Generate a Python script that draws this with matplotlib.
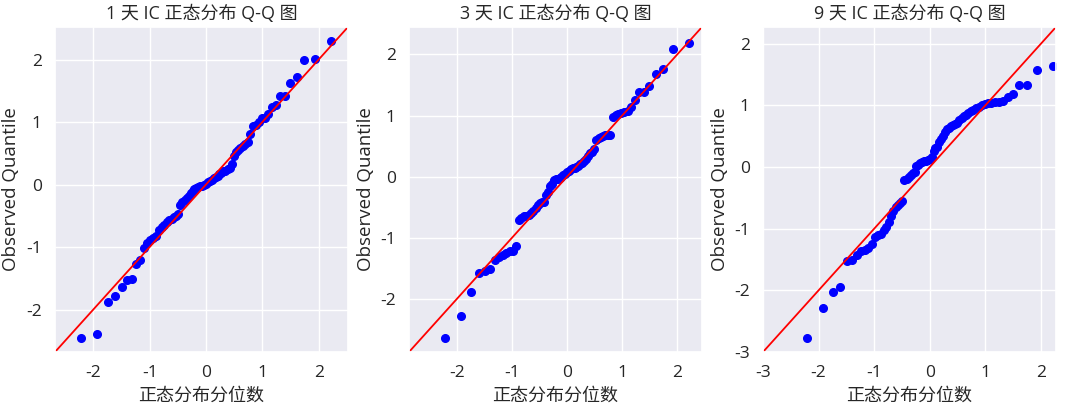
from statistics import NormalDist
from matplotlib import pyplot as plt
import seaborn as sns
import numpy as np

sns.set_theme(style='darkgrid')
plt.rcParams['font.family'] = ['Open Sans', 'Noto Sans CJK SC', 'DejaVu Sans']
plt.rcParams['axes.unicode_minus'] = False

# sorted, standardised IC values (73 periods each)
ic_1d = [-2.45, -2.39, -1.88, -1.79, -1.64, -1.52, -1.51, -1.27, -1.20, -1.02,
         -0.93, -0.89, -0.86, -0.82, -0.72, -0.68, -0.64, -0.60, -0.57, -0.55,
         -0.52, -0.50, -0.47, -0.32, -0.28, -0.25, -0.22, -0.18, -0.14, -0.10,
         -0.07, -0.05, -0.04, -0.03, -0.02, -0.01, 0.01, 0.04, 0.06, 0.08,
         0.10, 0.12, 0.14, 0.17, 0.19, 0.21, 0.22, 0.25, 0.27, 0.33,
         0.45, 0.52, 0.55, 0.58, 0.62, 0.65, 0.68, 0.81, 0.94, 0.95,
         1.00, 1.06, 1.07, 1.13, 1.24, 1.27, 1.41, 1.41, 1.62, 1.72,
         1.99, 2.01, 2.30]

ic_3d = [-2.64, -2.28, -1.89, -1.58, -1.54, -1.51, -1.36, -1.32, -1.28, -1.25,
         -1.22, -1.21, -1.13, -0.71, -0.67, -0.65, -0.64, -0.62, -0.60, -0.56,
         -0.52, -0.47, -0.43, -0.42, -0.41, -0.30, -0.25, -0.16, -0.12, -0.06,
         -0.04, -0.03, -0.02, 0.00, 0.02, 0.05, 0.08, 0.10, 0.12, 0.14,
         0.15, 0.16, 0.18, 0.20, 0.23, 0.26, 0.29, 0.34, 0.38, 0.41,
         0.45, 0.60, 0.63, 0.65, 0.67, 0.68, 0.68, 0.69, 0.98, 1.01,
         1.03, 1.05, 1.06, 1.08, 1.14, 1.25, 1.38, 1.39, 1.48, 1.68,
         1.76, 2.09, 2.19]

ic_9d = [-2.78, -2.28, -2.02, -1.94, -1.52, -1.51, -1.43, -1.37, -1.34, -1.32,
         -1.25, -1.14, -1.11, -1.08, -1.02, -0.98, -0.90, -0.80, -0.72, -0.65,
         -0.61, -0.58, -0.55, -0.21, -0.19, -0.16, -0.13, -0.10, -0.08, 0.02,
         0.04, 0.06, 0.08, 0.09, 0.10, 0.11, 0.13, 0.16, 0.26, 0.30,
         0.33, 0.40, 0.45, 0.50, 0.57, 0.61, 0.64, 0.67, 0.68, 0.70,
         0.72, 0.76, 0.79, 0.82, 0.84, 0.87, 0.90, 0.93, 0.95, 0.97,
         1.00, 1.02, 1.03, 1.04, 1.05, 1.06, 1.07, 1.14, 1.18, 1.33,
         1.33, 1.58, 1.63]

titles = ['1 天 IC 正态分布 Q-Q 图', '3 天 IC 正态分布 Q-Q 图', '9 天 IC 正态分布 Q-Q 图']
series = [ic_1d, ic_3d, ic_9d]
limits = [(-2.68, 2.52), (-2.87, 2.45), (-3.0, 2.27)]
lefts = [55, 409, 763]

fig = plt.figure(figsize=(10.7, 4.08), dpi=100)

for title, vals, lim, left in zip(titles, series, limits, lefts):
    ax = fig.add_axes([left / 1070, 56 / 408, 293 / 1070, 325 / 408])
    n = len(vals)
    # theoretical normal quantiles, plotting position i/(n+1)
    theo = [NormalDist().inv_cdf(i / (n + 1)) for i in range(1, n + 1)]
    ax.plot(theo, sorted(vals), 'o', color='#0000FF', markersize=5.5)
    ax.plot(lim, lim, color='#FF0000', linewidth=1.3)
    ax.set_xlim(lim)
    ax.set_ylim(lim)
    ax.set_xticks(np.arange(np.ceil(lim[0]), lim[1], 1))
    ax.set_yticks(np.arange(np.ceil(lim[0]), lim[1], 1))
    ax.tick_params(labelsize=12.5)
    ax.set_title(title, fontsize=13)
    ax.set_xlabel('正态分布分位数', fontsize=13)
    ax.set_ylabel('Observed Quantile', fontsize=13.5)

fig.savefig('out.png', dpi=100)
